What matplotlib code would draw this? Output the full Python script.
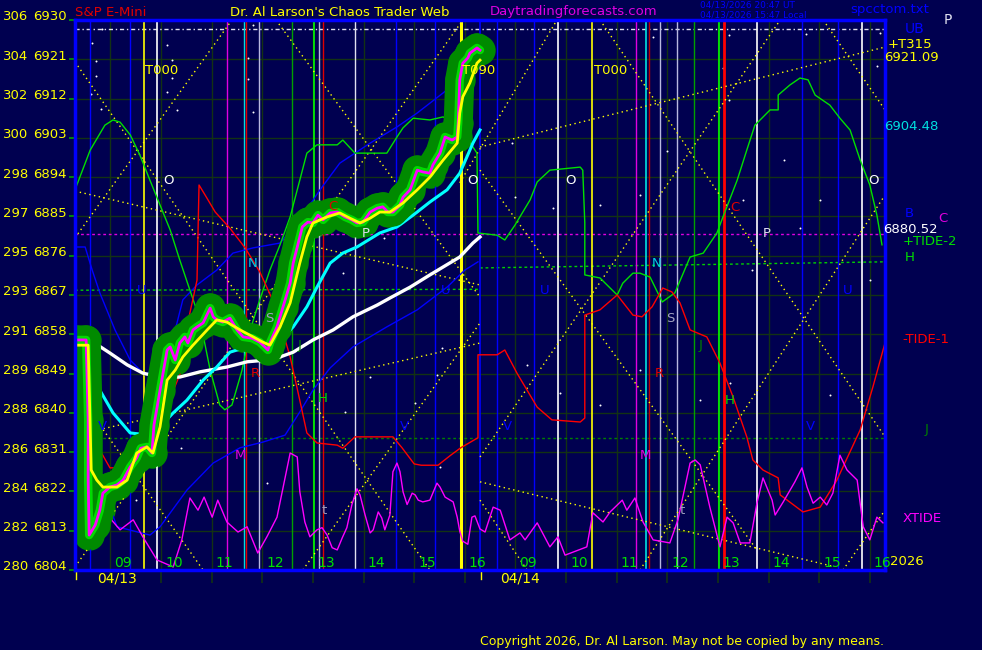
import matplotlib
matplotlib.use('Agg')
from matplotlib import pyplot as plt

# x = clock hour (day 2 = clock + 8), y = price
bg = '#000050'
gridc = '#133213'

price_levels = [6804, 6813, 6822, 6831, 6840, 6849, 6858, 6867, 6876, 6885, 6894, 6903, 6912, 6921, 6930]
level_codes = ['280', '282', '284', '286', '288', '289', '291', '293', '295', '297', '298', '300', '302', '304', '306']
hour_lines = [9, 10, 11, 12, 13, 14, 15, 16, 17, 18, 19, 20, 21, 22, 23, 24]
hour_labels = ['09', '10', '11', '12', '13', '14', '15', '16', '09', '10', '11', '12', '13', '14', '15', '16']

price = [(8.30, 6856.7), (8.52, 6856.7), (8.56, 6838.4), (8.56, 6824.6), (8.58, 6812.0), (8.70, 6814.3),
         (8.79, 6817.7), (8.85, 6821.6), (8.99, 6823.0), (9.13, 6823.5), (9.25, 6824.6), (9.39, 6827.6),
         (9.52, 6829.7), (9.60, 6831.9), (9.72, 6832.2), (9.82, 6830.8), (9.86, 6837.2), (9.98, 6845.2),
         (10.12, 6854.4), (10.18, 6855.1), (10.28, 6852.1), (10.37, 6856.0), (10.47, 6857.4), (10.53, 6856.0),
         (10.63, 6859.0), (10.71, 6859.7), (10.83, 6860.6), (10.97, 6864.0), (11.03, 6862.0), (11.10, 6861.3),
         (11.22, 6860.8), (11.36, 6861.7), (11.50, 6859.0), (11.62, 6857.4), (11.80, 6857.1), (11.95, 6856.2),
         (12.05, 6855.1), (12.11, 6854.4), (12.15, 6856.0), (12.29, 6859.7), (12.41, 6864.3), (12.55, 6869.7),
         (12.61, 6874.3), (12.71, 6878.9), (12.79, 6882.6), (12.90, 6883.7), (13.00, 6883.5), (13.10, 6885.3),
         (13.20, 6884.2), (13.34, 6885.8), (13.48, 6886.0), (13.63, 6884.9), (13.77, 6884.2), (13.87, 6883.5),
         (13.99, 6883.7), (14.13, 6886.0), (14.27, 6886.9), (14.38, 6887.2), (14.48, 6886.0), (14.58, 6886.0),
         (14.72, 6887.6), (14.78, 6889.4), (14.92, 6891.1), (15.06, 6895.6), (15.17, 6895.2), (15.31, 6894.9),
         (15.37, 6896.8), (15.51, 6899.5), (15.61, 6903.2), (15.75, 6902.5), (15.85, 6903.2), (15.87, 6906.4),
         (15.90, 6916.3), (15.96, 6920.1), (16.06, 6921.3), (16.10, 6922.4), (16.24, 6923.6), (16.30, 6923.1)]

fast_avg = [(8.30, 6855.5), (8.56, 6855.5), (8.62, 6826.9), (8.73, 6824.6), (8.85, 6823.0), (9.13, 6823.0),
            (9.33, 6824.6), (9.52, 6830.8), (9.72, 6832.2), (9.84, 6830.8), (9.98, 6836.8), (10.12, 6847.5),
            (10.28, 6849.8), (10.43, 6852.8), (10.63, 6855.5), (10.91, 6859.0), (11.10, 6861.3), (11.30, 6860.8),
            (11.56, 6859.0), (11.82, 6857.4), (12.01, 6856.2), (12.15, 6855.5), (12.35, 6859.7), (12.55, 6865.2),
            (12.74, 6874.3), (12.88, 6880.3), (13.00, 6883.5), (13.28, 6884.9), (13.53, 6885.8), (13.73, 6884.6),
            (13.93, 6883.5), (14.13, 6884.6), (14.32, 6886.0), (14.52, 6886.0), (14.78, 6888.1), (15.06, 6891.1),
            (15.31, 6894.0), (15.57, 6897.9), (15.85, 6901.8), (15.90, 6908.7), (15.96, 6912.4), (16.10, 6915.6),
            (16.24, 6920.1), (16.30, 6920.8)]

cyan_avg = [(8.30, 6855.1), (8.50, 6855.1), (8.60, 6850.5), (8.79, 6845.2), (9.05, 6840.0), (9.39, 6835.4),
            (9.78, 6834.9), (9.98, 6836.8), (10.24, 6840.0), (10.51, 6842.9), (10.83, 6847.5), (11.10, 6850.5),
            (11.36, 6853.9), (11.70, 6855.1), (12.09, 6855.5), (12.35, 6856.7), (12.61, 6859.7), (12.88, 6864.3),
            (13.08, 6868.8), (13.34, 6874.3), (13.59, 6876.6), (13.87, 6878.0), (14.32, 6881.2), (14.66, 6882.6),
            (14.98, 6885.3), (15.31, 6888.3), (15.65, 6891.1), (15.90, 6894.9), (16.04, 6898.6), (16.16, 6901.8),
            (16.30, 6904.8)]

white_avg = [(8.30, 6857.4), (8.50, 6857.4), (8.66, 6856.2), (8.99, 6853.7), (9.33, 6851.0), (9.64, 6849.1),
             (9.98, 6848.2), (10.37, 6848.2), (10.77, 6849.4), (11.30, 6850.5), (11.70, 6851.7), (12.09, 6852.1),
             (12.35, 6852.8), (12.61, 6853.9), (13.00, 6856.7), (13.40, 6859.0), (13.79, 6862.0), (14.27, 6864.7),
             (14.52, 6866.3), (14.92, 6868.8), (15.31, 6871.6), (15.90, 6875.7), (16.16, 6878.9), (16.30, 6880.3)]

tide2 = [(8.30, 6891.1), (8.60, 6900.2), (8.89, 6905.9), (9.05, 6907.1), (9.19, 6906.6), (9.39, 6903.7),
         (9.58, 6899.1), (9.78, 6893.3), (9.98, 6887.6), (10.18, 6881.9), (10.37, 6875.0), (10.57, 6868.1),
         (10.77, 6861.3), (10.97, 6849.8), (11.16, 6841.8), (11.26, 6840.7), (11.40, 6841.8), (11.60, 6849.8),
         (11.76, 6859.0), (11.95, 6865.9), (12.15, 6872.7), (12.35, 6878.5), (12.55, 6884.9), (12.74, 6893.3),
         (12.88, 6899.5), (13.08, 6901.4), (13.48, 6901.4), (13.59, 6902.5), (13.83, 6899.5), (14.46, 6899.5),
         (14.66, 6903.2), (14.78, 6905.3), (14.98, 6907.5), (15.31, 6907.1), (15.57, 6907.8), (15.90, 6905.5),
         (16.24, 6899.5), (16.26, 6881.2), (16.64, 6880.7), (16.79, 6879.6), (16.99, 6883.0), (17.29, 6888.8),
         (17.43, 6892.9), (17.68, 6895.6), (18.28, 6896.3), (18.33, 6895.6), (18.37, 6883.5), (18.37, 6871.6),
         (18.67, 6870.9), (19.01, 6867.0), (19.12, 6869.7), (19.32, 6872.0), (19.46, 6872.0), (19.66, 6871.1),
         (19.90, 6865.4), (20.15, 6867.5), (20.45, 6875.7), (20.71, 6876.6), (20.98, 6881.2), (21.10, 6884.9),
         (21.38, 6893.3), (21.57, 6900.2), (21.73, 6905.9), (22.03, 6909.4), (22.19, 6909.4), (22.19, 6912.8),
         (22.42, 6915.1), (22.62, 6916.7), (22.78, 6916.3), (22.92, 6912.8), (23.21, 6910.5), (23.41, 6907.5),
         (23.61, 6904.8), (23.81, 6897.9), (24.00, 6892.2), (24.14, 6885.3), (24.24, 6878.5)]

tide1 = [(8.30, 6844.1), (8.66, 6838.4), (8.79, 6831.5), (8.99, 6827.4), (9.29, 6827.4), (9.45, 6828.5),
         (9.72, 6832.2), (10.08, 6840.7), (10.37, 6848.7), (10.51, 6859.7), (10.71, 6870.4), (10.75, 6892.2),
         (10.87, 6889.9), (11.07, 6886.0), (11.36, 6882.3), (11.66, 6877.8), (11.95, 6872.3), (12.25, 6864.7),
         (12.55, 6852.8), (12.74, 6842.9), (12.88, 6835.4), (13.08, 6833.1), (13.48, 6832.6), (13.59, 6831.9),
         (13.83, 6834.5), (14.58, 6834.5), (14.76, 6832.0), (15.00, 6828.3), (15.14, 6828.0), (15.47, 6828.0),
         (15.71, 6830.2), (15.92, 6832.0), (16.26, 6834.3), (16.26, 6853.3), (16.64, 6853.3), (16.79, 6854.4),
         (17.03, 6849.1), (17.43, 6841.3), (17.72, 6838.4), (18.28, 6837.9), (18.37, 6838.8), (18.37, 6862.4),
         (18.67, 6863.6), (19.01, 6867.0), (19.32, 6862.4), (19.50, 6862.0), (19.70, 6864.3), (19.91, 6868.6),
         (20.09, 6867.7), (20.25, 6865.2), (20.45, 6859.0), (20.78, 6857.4), (21.04, 6851.4), (21.30, 6843.6),
         (21.57, 6834.5), (21.69, 6829.2), (21.89, 6826.9), (22.19, 6825.1), (22.23, 6821.2), (22.68, 6817.3),
         (23.02, 6818.4), (23.35, 6824.6), (23.81, 6836.1), (24.06, 6845.9), (24.30, 6856.0)]

xtide = [(8.79, 6816.6), (8.99, 6815.9), (9.19, 6813.2), (9.45, 6815.5), (9.64, 6811.6), (9.92, 6806.3),
         (10.24, 6804.7), (10.41, 6810.9), (10.57, 6820.5), (10.73, 6817.7), (10.85, 6820.7), (11.01, 6816.1),
         (11.12, 6820.0), (11.30, 6815.0), (11.52, 6812.7), (11.70, 6813.9), (11.91, 6807.9), (12.09, 6811.6),
         (12.29, 6816.1), (12.55, 6830.8), (12.69, 6829.9), (12.74, 6822.0), (12.84, 6815.0), (12.94, 6811.6),
         (13.08, 6813.2), (13.18, 6813.7), (13.28, 6812.0), (13.38, 6809.1), (13.48, 6808.6), (13.58, 6811.4),
         (13.67, 6813.7), (13.77, 6819.0), (13.87, 6822.6), (13.93, 6821.2), (14.03, 6816.6), (14.13, 6812.5),
         (14.19, 6813.2), (14.29, 6817.3), (14.36, 6815.9), (14.42, 6813.2), (14.52, 6816.6), (14.58, 6826.5),
         (14.66, 6828.5), (14.72, 6826.5), (14.78, 6821.9), (14.86, 6819.0), (14.96, 6821.6), (15.02, 6821.2),
         (15.08, 6820.0), (15.17, 6819.6), (15.31, 6820.0), (15.45, 6823.9), (15.51, 6823.0), (15.61, 6820.7),
         (15.77, 6819.6), (15.85, 6816.1), (15.90, 6812.9), (15.96, 6810.6), (16.06, 6809.9), (16.14, 6816.1),
         (16.20, 6816.4), (16.30, 6813.4), (16.40, 6812.7), (16.56, 6818.4), (16.70, 6817.7), (16.89, 6810.9),
         (17.09, 6812.5), (17.19, 6810.9), (17.43, 6814.8), (17.68, 6809.3), (17.84, 6811.6), (17.98, 6807.4),
         (18.41, 6809.3), (18.53, 6817.1), (18.73, 6815.0), (18.87, 6817.3), (19.11, 6820.0), (19.20, 6817.7),
         (19.36, 6820.5), (19.52, 6815.0), (19.72, 6810.9), (20.05, 6810.2), (20.21, 6815.5), (20.45, 6828.5),
         (20.55, 6829.2), (20.65, 6828.1), (20.84, 6818.4), (21.04, 6809.3), (21.18, 6816.1), (21.30, 6814.8),
         (21.44, 6810.2), (21.63, 6810.2), (21.77, 6819.3), (21.89, 6825.1), (22.07, 6820.0), (22.13, 6816.6),
         (22.29, 6819.6), (22.52, 6824.2), (22.66, 6827.4), (22.76, 6823.0), (22.88, 6819.3), (23.02, 6820.7),
         (23.15, 6818.9), (23.27, 6821.6), (23.41, 6830.3), (23.55, 6826.9), (23.75, 6824.6), (23.87, 6813.9),
         (24.00, 6810.9), (24.14, 6816.1), (24.26, 6814.8)]

blue_upper = [(8.30, 6878.0), (8.50, 6878.0), (8.64, 6872.7), (8.79, 6867.5), (9.09, 6859.0), (9.39, 6852.1),
              (9.68, 6848.7), (9.98, 6851.0), (10.28, 6859.0), (10.43, 6865.9), (10.71, 6869.3), (11.10, 6872.7),
              (11.42, 6876.6), (11.82, 6877.8), (12.35, 6878.9), (12.74, 6884.2), (13.14, 6891.1), (13.53, 6897.2),
              (14.13, 6901.8), (14.66, 6905.5), (15.06, 6908.7), (15.65, 6914.0), (16.00, 6916.7)]

blue_lower = [(8.30, 6833.1), (8.60, 6833.1), (8.79, 6824.6), (9.13, 6813.9), (9.78, 6812.0), (9.98, 6813.9),
              (10.51, 6822.3), (11.03, 6828.5), (11.56, 6832.0), (12.01, 6833.3), (12.45, 6834.9), (12.74, 6840.2),
              (13.00, 6845.2), (13.34, 6850.3), (13.79, 6855.1), (14.46, 6859.7), (15.06, 6863.6), (15.65, 6868.8),
              (16.00, 6872.7), (16.26, 6874.6)]

# dotted yellow angle lines: (t0, p0, t1, p1)
angle_lines = [(8.30, 6920.4, 15.31, 6804.0), (8.30, 6880.1, 11.40, 6930.0), (12.27, 6930.0, 16.30, 6866.5),
               (8.30, 6845.2, 10.83, 6804.0), (8.30, 6804.7, 15.96, 6930.0), (12.80, 6804.0, 16.30, 6860.6),
               (16.30, 6895.6, 21.77, 6808.6), (16.30, 6829.9, 22.23, 6930.0), (18.67, 6930.0, 24.30, 6834.5),
               (19.46, 6804.0, 24.30, 6889.9), (23.08, 6930.0, 24.30, 6909.4), (23.47, 6804.0, 24.30, 6817.7),
               (16.30, 6820.0, 17.23, 6804.0), (15.90, 6892.7, 17.82, 6930.0),
               (8.30, 6890.8, 16.30, 6869.3), (8.30, 6834.9, 16.30, 6856.0),
               (16.30, 6900.9, 24.30, 6923.8), (16.30, 6824.2, 23.25, 6804.9)]

# vertical time markers: (t, colour, width)
markers = [(8.60, '#0000ff', 1), (9.39, '#0000ff', 1), (9.66, '#ffff00', 1.2), (9.92, '#ffffff', 1.2),
           (11.30, '#e000e0', 1), (11.64, '#00e0e0', 1), (11.68, '#e00000', 1), (11.93, '#b8b8e0', 1),
           (12.59, '#00a000', 1), (13.02, '#00ff00', 1.2), (13.12, '#b8b8e0', 1), (13.20, '#e00000', 1),
           (13.83, '#e0e0f0', 1), (14.64, '#0000ff', 1), (15.41, '#0000ff', 1), (15.92, '#ffff00', 2.2),
           (16.30, '#0000ff', 1.2), (16.64, '#0000ff', 1), (17.37, '#0000ff', 1), (17.84, '#ffffff', 1.2),
           (18.51, '#ffff00', 1.2), (19.38, '#e000e0', 1), (19.58, '#00e0e0', 1.2), (19.64, '#c00000', 1),
           (19.86, '#b8b8e0', 1), (20.19, '#b8b8e0', 1), (20.53, '#00a000', 1), (21.02, '#00ff00', 1.2),
           (21.12, '#ff0000', 2), (21.77, '#ffffff', 1.2), (22.66, '#0000ff', 1), (23.37, '#0000ff', 1),
           (23.85, '#ffffff', 1.2)]

letters = [(9.68, 6918.5, 'T000', '#ffff00'), (18.55, 6918.5, 'T000', '#ffff00'), (15.94, 6918.5, 'T090', '#ffff00'),
           (10.04, 6893.3, 'O', '#ffffff'), (16.04, 6893.3, 'O', '#ffffff'), (17.98, 6893.3, 'O', '#ffffff'),
           (23.96, 6893.3, 'O', '#ffffff'), (11.72, 6874.3, 'N', '#00d0e0'), (19.70, 6874.3, 'N', '#00d0e0'),
           (11.78, 6849.1, 'R', '#e00000'), (19.76, 6849.1, 'R', '#e00000'), (12.05, 6861.7, 'S', '#a0a0c0'),
           (19.97, 6861.7, 'S', '#a0a0c0'), (13.97, 6881.2, 'P', '#e0e0f0'), (21.89, 6881.0, 'P', '#e0e0f0'),
           (13.30, 6887.2, 'C', '#e00000'), (21.24, 6887.0, 'C', '#e00000'), (11.46, 6830.3, 'M', '#e000e0'),
           (19.46, 6830.3, 'M', '#e000e0'), (12.69, 6855.5, 'J', '#008000'), (20.61, 6855.5, 'J', '#008000'),
           (13.10, 6843.4, 'H', '#00e000'), (21.14, 6842.9, 'H', '#00e000'), (9.52, 6868.1, 'U', '#0000ff'),
           (15.53, 6868.1, 'U', '#0000ff'), (17.49, 6868.1, 'U', '#0000ff'), (23.47, 6868.1, 'U', '#0000ff'),
           (8.75, 6836.8, 'V', '#0000ff'), (14.72, 6836.8, 'V', '#0000ff'), (16.75, 6836.8, 'V', '#0000ff'),
           (22.74, 6836.8, 'V', '#0000ff'), (13.18, 6817.7, 't', '#a0a0c0'), (20.25, 6817.7, 't', '#a0a0c0')]

stars = [(8.83, 6927.9), (8.64, 6924.7), (8.71, 6920.6), (8.71, 6917.2), (8.62, 6913.0), (8.81, 6909.6),
         (10.12, 6924.3), (10.22, 6920.8), (10.22, 6916.7), (10.12, 6913.5), (10.31, 6909.4), (11.82, 6928.9),
         (11.72, 6921.3), (11.72, 6916.5), (11.82, 6908.9), (19.72, 6926.1), (21.22, 6926.6), (21.10, 6919.0),
         (21.22, 6911.7), (22.74, 6926.8), (24.20, 6927.0), (24.14, 6919.5), (16.93, 6901.8), (17.74, 6886.9),
         (16.99, 6889.4), (18.67, 6887.6), (19.46, 6889.9), (21.50, 6888.8), (21.67, 6872.7), (22.62, 6882.3),
         (23.02, 6888.8), (24.00, 6870.4), (17.23, 6851.0), (17.88, 6844.5), (18.67, 6841.8), (19.46, 6849.8),
         (20.65, 6842.9), (21.24, 6846.8), (23.21, 6844.1), (13.93, 6862.9), (14.13, 6848.2), (13.63, 6840.2),
         (15.02, 6842.3), (15.45, 6848.7), (15.55, 6854.9), (15.51, 6827.6), (10.77, 6847.5), (9.50, 6820.0),
         (10.40, 6832.0), (12.10, 6824.0), (13.60, 6872.0), (14.40, 6880.0), (20.00, 6900.0), (22.30, 6898.0)]

fig = plt.figure(figsize=(9.82, 6.5), dpi=100, facecolor=bg)
ax = fig.add_axes([75 / 982, 80 / 650, 810 / 982, 550 / 650], facecolor=bg)
ax.set_xlim(8.30, 24.30)
ax.set_ylim(6804, 6930)

ax.set_xticks(hour_lines)
ax.set_yticks(price_levels)
ax.set_xticklabels([])
ax.set_yticklabels([])
ax.tick_params(axis='x', colors=gridc, length=9, width=1.2)
ax.tick_params(axis='y', colors='#00a000', length=4, width=1.2)
ax.grid(True, color=gridc, lw=1)
ax.set_axisbelow(True)
for s in ax.spines.values():
    s.set_color('#0000ff')
    s.set_linewidth(2.5)

# horizontal reference lines
ax.axhline(6927.9, color='#e0e0f0', lw=1, ls=(0, (3, 2, 1, 2)))
ax.axhline(6881.0, color='#e000e0', lw=1, ls=(0, (2, 2)))
ax.plot([8.30, 16.30], [6868.1, 6868.3], color='#00d000', lw=1, ls=(0, (2, 2)))
ax.plot([16.30, 24.30], [6873.2, 6874.6], color='#00d000', lw=1, ls=(0, (2, 2)))
ax.axhline(6834.3, color='#008000', lw=1, ls=(0, (2, 2)))

for t, c, w in markers:
    ax.axvline(t, color=c, lw=w)

for t0, p0, t1, p1 in angle_lines:
    ax.plot([t0, t1], [p0, p1], color='#ffff00', lw=1, ls=(0, (1, 2.5)))

st, sp = zip(*stars)
ax.scatter(st, sp, s=2, color='#ffffff', lw=0)

t, p = zip(*blue_upper)
ax.plot(t, p, color='#0000ff', lw=1)
t, p = zip(*blue_lower)
ax.plot(t, p, color='#0000ff', lw=1)
t, p = zip(*tide2)
ax.plot(t, p, color='#00e000', lw=1)
t, p = zip(*tide1)
ax.plot(t, p, color='#ff0000', lw=1)
t, p = zip(*xtide)
ax.plot(t, p, color='#ff00ff', lw=1)

t, p = zip(*white_avg)
ax.plot(t, p, color='#ffffff', lw=2.4)
t, p = zip(*cyan_avg)
ax.plot(t, p, color='#00ffff', lw=2.2)

# price with green glow
t, p = zip(*price)
ax.plot(t, p, color='#008a00', lw=21, solid_capstyle='round', solid_joinstyle='round')
ax.scatter(t, p, s=480, color='#008a00', lw=0)
ax.scatter(t[::2], p[::2], s=150, color='#00e000', lw=0)
ax.plot(t, p, color='#00f000', lw=6, solid_capstyle='round', solid_joinstyle='round', alpha=0.8)
ax.plot(t, p, color='#ff00ff', lw=2)
t, p = zip(*fast_avg)
ax.plot(t, p, color='#ffff00', lw=2)

for t, p, s, c in letters:
    ax.text(t, p, s, color=c, fontsize=9.5, ha='left', va='center')

# hour labels
for h, lab in zip(hour_lines, hour_labels):
    ax.text(h + 0.08, 6805.7, lab, color='#00e000', fontsize=10, ha='left', va='center')

ytr = ax.get_yaxis_transform()
for lv, code in zip(price_levels, level_codes):
    ax.text(-0.089, lv + 0.7, code, transform=ytr, color='#ffff00', fontsize=9.5, ha='left', va='center', clip_on=False)
    ax.text(-0.052, lv + 0.7, str(lv), transform=ytr, color='#ffff00', fontsize=9.5, ha='left', va='center', clip_on=False)

# right side labels
right_labels = [(1.003, 6924.4, '+T315', '#ffff00', 9.5), (0.999, 6921.3, '6921.09', '#ffff00', 9.5),
                (0.999, 6905.5, '6904.48', '#00e0e0', 9.5), (0.998, 6881.9, '6880.52', '#ffffff', 9.5),
                (1.025, 6885.6, 'B', '#0000ff', 9.5), (1.066, 6884.6, 'C', '#e000e0', 9.5),
                (1.022, 6879.2, '+TIDE-2', '#00e000', 9.5), (1.025, 6875.5, 'H', '#00e000', 9.5),
                (1.022, 6856.7, '-TIDE-1', '#ff0000', 9.5), (1.049, 6836.1, 'J', '#008000', 9.5),
                (1.022, 6815.7, 'XTIDE', '#ff00ff', 9.5), (1.006, 6806.0, '2026', '#ffff00', 9.5),
                (1.025, 6928.0, 'UB', '#0000ff', 10), (1.072, 6930.0, 'P', '#e0e0f0', 10)]
for x, y, s, c, fs in right_labels:
    ax.text(x, y, s, transform=ytr, color=c, fontsize=fs, ha='left', va='center', clip_on=False)

xtr = ax.get_xaxis_transform()
ax.text(8.73, -0.015, '04/13', transform=xtr, color='#ffff00', fontsize=10, ha='left', va='center', clip_on=False)
ax.text(16.70, -0.015, '04/14', transform=xtr, color='#ffff00', fontsize=10, ha='left', va='center', clip_on=False)
ax.plot([8.32, 8.32], [-0.004, -0.016], transform=xtr, color='#ffff00', lw=1, clip_on=False)
ax.plot([16.32, 16.32], [-0.004, -0.016], transform=xtr, color='#ffff00', lw=1, clip_on=False)

fig.text(75 / 982, 1 - 12 / 650, 'S&P E-Mini', color='#e00000', fontsize=9.5, ha='left', va='center')
fig.text(230 / 982, 1 - 12 / 650, "Dr. Al Larson's Chaos Trader Web", color='#ffff00', fontsize=9.5, ha='left', va='center')
fig.text(490 / 982, 1 - 12 / 650, 'Daytradingforecasts.com', color='#e000e0', fontsize=9.5, ha='left', va='center')
fig.text(700 / 982, 1 - 5 / 650, '04/13/2026 20:47 UT', color='#0000ff', fontsize=6.5, ha='left', va='center')
fig.text(700 / 982, 1 - 15 / 650, '04/13/2026 15:47 Local', color='#0000ff', fontsize=6.5, ha='left', va='center')
fig.text(850 / 982, 1 - 9 / 650, 'spcctom.txt', color='#0000ff', fontsize=9.5, ha='left', va='center')
fig.text(480 / 982, 1 - 642 / 650, 'Copyright 2026, Dr. Al Larson. May not be copied by any means.',
         color='#ffff00', fontsize=9, ha='left', va='center')

plt.savefig('out.png', dpi=100, facecolor=bg)
